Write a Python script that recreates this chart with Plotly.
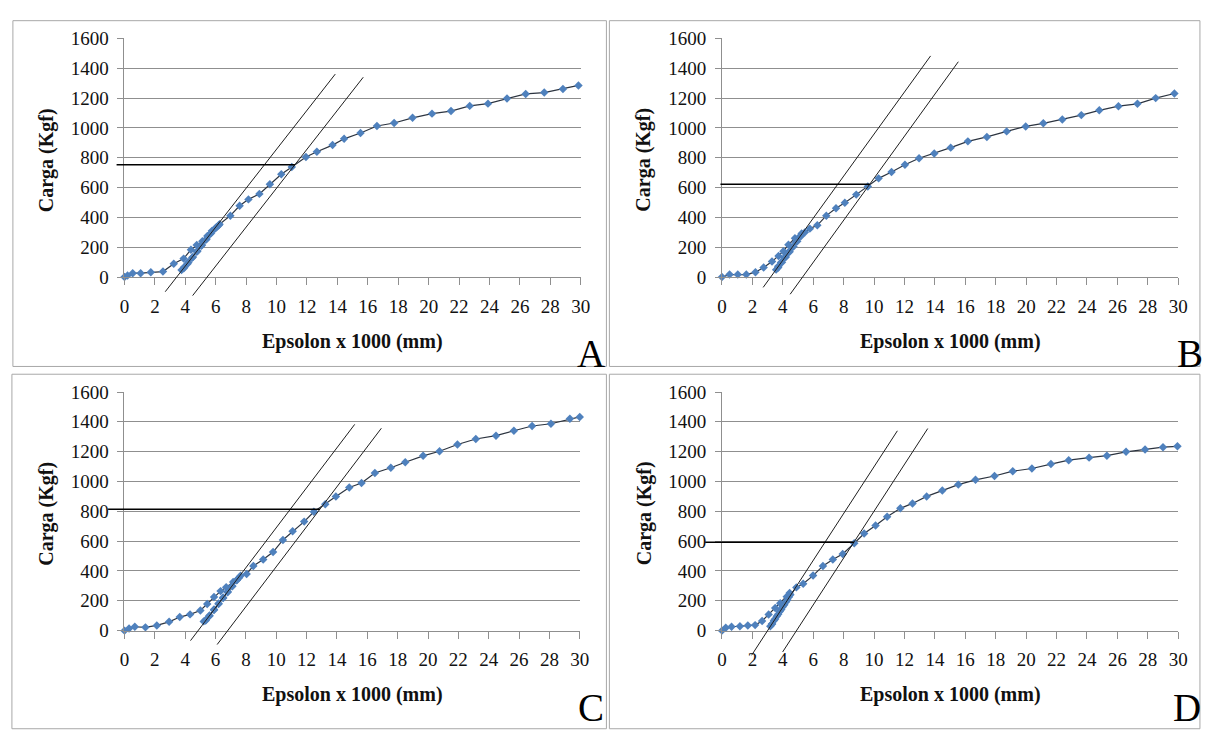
import plotly.graph_objects as go

W, H = 1205, 731

# ---------------- data ----------------
eps_A = [0, 0.2, 0.54, 1.06, 1.73, 2.53, 3.24, 3.89, 4.37, 4.75, 5.12, 5.45, 5.75, 6.05, 6.2,
         6.0, 5.7, 5.4, 5.1, 4.8, 4.5, 4.2, 3.95, 3.75,
         3.9, 4.15, 4.45, 4.75, 5.05, 5.35, 5.65, 5.95, 6.25,
         6.96, 7.57, 8.15, 8.87, 9.56, 10.31, 11.0, 11.93, 12.65, 13.68, 14.44, 15.52, 16.6,
         17.73, 18.94, 20.22, 21.47, 22.7, 23.9, 25.15, 26.38, 27.6, 28.83, 29.85]
carga_A = [0, 11, 26, 26, 33, 37, 90, 124, 184, 215, 240, 275, 310, 335, 347,
           330, 295, 255, 215, 175, 135, 100, 70, 48,
           60, 90, 130, 170, 210, 250, 290, 325, 354,
           412, 478, 521, 558, 623, 689, 738, 805, 840, 885, 927, 966, 1013,
           1033, 1068, 1096, 1113, 1148, 1163, 1198, 1228, 1237, 1261, 1285]

eps_B = [0, 0.5, 1.04, 1.6, 2.2, 2.74, 3.29, 3.72, 4.04, 4.37, 4.8, 5.24,
         5.1, 4.85, 4.6, 4.35, 4.1, 3.88, 3.7, 3.56,
         3.7, 3.95, 4.2, 4.45, 4.7, 4.95, 5.2, 5.45,
         5.78, 6.27, 6.86, 7.5, 8.08, 8.83, 9.59, 10.3, 11.15, 12.03, 12.96, 13.96, 15.04,
         16.17, 17.42, 18.72, 19.97, 21.13, 22.38, 23.63, 24.81, 26.07, 27.32, 28.52, 29.75]
carga_B = [0, 17, 17, 17, 33, 65, 104, 141, 174, 217, 260, 293,
           270, 235, 200, 165, 130, 98, 72, 50,
           65, 100, 135, 170, 205, 240, 275, 300,
           325, 347, 412, 462, 499, 553, 607, 662, 705, 753, 797, 829, 868,
           910, 940, 977, 1010, 1031, 1057, 1086, 1118, 1146, 1162, 1200, 1231]

eps_C = [0, 0.3, 0.68, 1.38, 2.13, 2.94, 3.64, 4.32, 5.0, 5.45, 5.9, 6.33, 6.7, 7.16, 7.55,
         7.4, 7.1, 6.8, 6.5, 6.2, 5.9, 5.6, 5.35, 5.22,
         5.35, 5.6, 5.9, 6.2, 6.5, 6.8, 7.1, 7.4, 7.65,
         8.05, 8.49, 9.14, 9.79, 10.44, 11.08, 11.84, 12.48, 13.23, 13.93, 14.81, 15.62,
         16.5, 17.55, 18.5, 19.68, 20.76, 21.94, 23.15, 24.48, 25.66, 26.86, 28.1, 29.35, 30.0]
carga_C = [0, 15, 26, 22, 35, 59, 91, 109, 135, 178, 226, 265, 291, 326, 355,
           340, 300, 262, 222, 182, 142, 102, 72, 62,
           68, 98, 138, 178, 218, 258, 298, 338, 368,
           380, 434, 477, 527, 608, 666, 731, 797, 847, 899, 960, 990,
           1057, 1092, 1129, 1172, 1203, 1248, 1285, 1307, 1340, 1372, 1387, 1420, 1433]

eps_D = [0, 0.25, 0.63, 1.18, 1.7, 2.18, 2.64, 3.07, 3.5, 3.83, 4.26, 4.45,
         4.4, 4.2, 4.0, 3.8, 3.6, 3.42, 3.28, 3.18,
         3.3, 3.5, 3.7, 3.9, 4.1, 4.3, 4.5,
         4.89, 5.34, 5.99, 6.64, 7.29, 7.94, 8.7, 9.35, 10.1, 10.86, 11.73, 12.53, 13.46,
         14.49, 15.54, 16.67, 17.92, 19.12, 20.38, 21.63, 22.8, 24.14, 25.31, 26.57, 27.82,
         29.0, 29.95]
carga_D = [0, 20, 26, 30, 35, 37, 65, 108, 152, 184, 228, 252,
           225, 192, 160, 128, 96, 68, 45, 30,
           45, 78, 110, 142, 174, 206, 240,
           290, 315, 369, 434, 477, 514, 586, 651, 705, 764, 820, 853, 900,
           940, 979, 1011, 1037, 1069, 1087, 1117, 1143, 1160, 1173, 1199, 1215,
           1230, 1236]

panel_names = ["A", "B", "C", "D"]
modulus = [130.5, 141.0, 134.0, 157.0]          # slope of elastic tangent (Kgf per unit)
tangent_x0 = [3.43, 3.2, 4.85, 3.0]             # tangent x-intercept
offset = [2.0, 2.1, 1.95, 1.9]                  # parallel offset line
yield_load = [753, 623, 814, 593]               # horizontal yield line
hline_start = [-0.52, -0.1, -1.08, -1.1]
tan1_span = [(-98, 1361), (-69, 1483), (-67, 1383), (-165, 1340)]
tan2_span = [(-124, 1340), (-115, 1444), (-93, 1357), (-143, 1355)]

x_ticks = list(range(0, 31, 2))
y_ticks = list(range(0, 1601, 200))

series = [(eps_A, carga_A), (eps_B, carga_B), (eps_C, carga_C), (eps_D, carga_D)]

# ---------------- layout geometry (pixels) ----------------
plot_px = [(121, 29.3, 583, 275), (726, 29.3, 1188, 275),
           (121, 393.3, 582, 639), (726, 393.3, 1188, 639)]
boxes = [(8, 11, 609, 367), (612, 11, 1210, 367), (7, 375, 609, 740), (612, 375, 1210, 740)]
letter_pos = [(593, 354), (1200, 354), (593, 718), (1197, 718)]

GRID = "#8f8f8f"
FONT = "Liberation Serif"

fig = go.Figure()
layout = dict(width=W, height=H, margin=dict(l=0, r=0, t=0, b=0),
              paper_bgcolor="white", plot_bgcolor="rgba(0,0,0,0)",
              showlegend=False, shapes=[], annotations=[])

EXT_L, EXT_B = 30, 40
for i in range(4):
    px0, py0, px1, py1 = plot_px[i]
    k = i + 1
    ko = i + 5
    ppx = (px1 - px0) / 30.0
    ppy = (py1 - py0) / 1600.0
    xa = "xaxis" if k == 1 else f"xaxis{k}"
    ya = "yaxis" if k == 1 else f"yaxis{k}"
    layout[xa] = dict(domain=[px0 / W, px1 / W], range=[0, 30], anchor=f"y{'' if k == 1 else k}",
                      tickvals=x_ticks, showgrid=False, zeroline=False, showline=True,
                      linecolor=GRID, linewidth=1, ticks="outside", ticklen=7, tickcolor=GRID,
                      tickfont=dict(family=FONT, size=19, color="#111"), ticklabelstandoff=5,
                      fixedrange=True)
    layout[ya] = dict(domain=[1 - py1 / H, 1 - py0 / H], range=[0, 1600], anchor=f"x{'' if k == 1 else k}",
                      tickvals=y_ticks, showgrid=True, gridcolor=GRID, gridwidth=1, zeroline=False,
                      showline=True, linecolor=GRID, linewidth=1, ticks="outside", ticklen=6,
                      tickcolor=GRID, tickfont=dict(family=FONT, size=19, color="#111"),
                      ticklabelstandoff=5, fixedrange=True)
    # invisible overlay subplot with same scale, extended below/left so lines may leave the plot
    layout[f"xaxis{ko}"] = dict(domain=[(px0 - EXT_L) / W, px1 / W], range=[-EXT_L / ppx, 30],
                                anchor=f"y{ko}", visible=False, fixedrange=True)
    layout[f"yaxis{ko}"] = dict(domain=[1 - (py1 + EXT_B) / H, 1 - py0 / H], range=[-EXT_B / ppy, 1600],
                                anchor=f"x{ko}", visible=False, fixedrange=True)

    xr = f"x{'' if k == 1 else k}"
    yr = f"y{'' if k == 1 else k}"
    ex, cy = series[i]
    E = modulus[i]
    a0 = tangent_x0[i]
    a1 = a0 + offset[i]
    # tangent lines
    for a, span in ((a0, tan1_span[i]), (a1, tan2_span[i])):
        ys = list(span)
        xs = [a + y / E for y in ys]
        fig.add_trace(go.Scatter(x=xs, y=ys, mode="lines", line=dict(color="#1e1e1e", width=1),
                                 xaxis=f"x{ko}", yaxis=f"y{ko}", hoverinfo="skip"))
    # yield line
    xi = a1 + yield_load[i] / E
    fig.add_trace(go.Scatter(x=[hline_start[i], xi], y=[yield_load[i]] * 2, mode="lines",
                             line=dict(color="#000", width=1.4), xaxis=f"x{ko}", yaxis=f"y{ko}",
                             hoverinfo="skip"))
    # data curve
    fig.add_trace(go.Scatter(x=ex, y=cy, mode="lines+markers", xaxis=xr, yaxis=yr,
                             line=dict(color="#2c3440", width=1.2),
                             marker=dict(symbol="diamond", size=6.5, color="#4F81BD",
                                         line=dict(width=0)),
                             cliponaxis=False))

    # panel border
    bx0, by0, bx1, by1 = boxes[i]
    layout["shapes"].append(dict(type="rect", xref="paper", yref="paper",
                                 x0=bx0 / W, x1=bx1 / W, y0=1 - by1 / H, y1=1 - by0 / H,
                                 line=dict(color="#a8a8a8", width=1), layer="below"))
    # axis titles
    cxp = (px0 + px1) / 2
    cyp = (py0 + py1) / 2
    layout["annotations"].append(dict(text="<b>Epsolon x 1000 (mm)</b>", xref="paper", yref="paper",
                                      x=cxp / W, y=1 - (py1 + 66) / H, showarrow=False,
                                      xanchor="center", yanchor="middle",
                                      font=dict(family=FONT, size=20, color="#111")))
    layout["annotations"].append(dict(text="<b>Carga (Kgf)</b>", xref="paper", yref="paper",
                                      x=(px0 - 79) / W, y=1 - (cyp + 2) / H, showarrow=False,
                                      textangle=-90, xanchor="center", yanchor="middle",
                                      font=dict(family=FONT, size=20, color="#111")))
    lx, ly = letter_pos[i]
    layout["annotations"].append(dict(text=panel_names[i], xref="paper", yref="paper",
                                      x=lx / W, y=1 - ly / H, showarrow=False,
                                      xanchor="center", yanchor="middle",
                                      font=dict(family=FONT, size=39, color="#000")))

fig.update_layout(**layout)
fig.write_html("out.html")
